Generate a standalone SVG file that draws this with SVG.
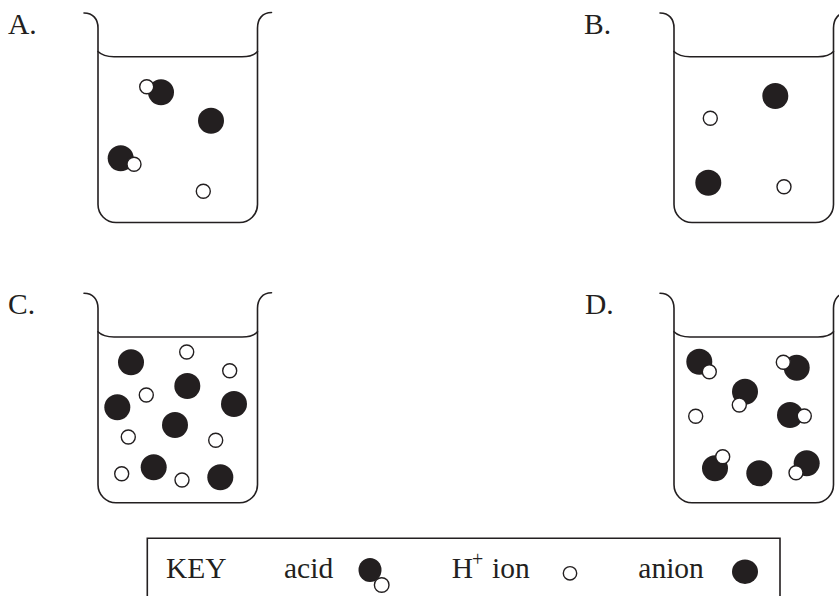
<svg xmlns="http://www.w3.org/2000/svg" xmlns:xlink="http://www.w3.org/1999/xlink" width="839" height="596" viewBox="0 0 839 596">
<style>
.bk{fill:none;stroke:#231f20;stroke-width:1.6;stroke-linecap:round}
.an{fill:#231f20}
.h{fill:#fff;stroke:#231f20;stroke-width:1.4}
.lbl{font-family:"Liberation Serif","Times New Roman",serif;font-size:29.5px;fill:#231f20}
</style>
<defs>
<g id="beaker">
<path class="bk" d="M84,13 C93,13 98,19 98,28 V204.5 A18,18 0 0 0 116,222.5 H239.5 A18,18 0 0 0 257.5,204.5 V28 C257.5,19 262.5,12.5 271.5,12.5"/>
<path class="bk" d="M98,51.5 C102,55.5 106,56.7 114,56.7 H242 C250,56.7 254,55.5 257.5,51.5"/>
</g>
</defs>
<rect width="839" height="596" fill="#fff"/>

<g id="beakerA">
<text class="lbl" x="8" y="34.3">A.</text>
<use xlink:href="#beaker"/>
<circle class="an" cx="161" cy="92.3" r="13"/><circle class="h" cx="146.7" cy="86.7" r="7"/>
<circle class="an" cx="211" cy="120.7" r="13"/>
<circle class="an" cx="120.7" cy="158.3" r="13"/><circle class="h" cx="134" cy="164.3" r="7"/>
<circle class="h" cx="203.3" cy="191.3" r="7"/>
</g>

<g id="beakerB">
<text class="lbl" x="584" y="34.3">B.</text>
<use xlink:href="#beaker" x="576"/>
<circle class="an" cx="775.3" cy="96" r="13"/>
<circle class="h" cx="710.3" cy="118.3" r="7"/>
<circle class="an" cx="708.3" cy="182.7" r="13"/>
<circle class="h" cx="784" cy="186.7" r="7"/>
</g>

<g id="beakerC">
<text class="lbl" x="8" y="314.3">C.</text>
<use xlink:href="#beaker" y="280.3"/>
<circle class="an" cx="131" cy="362.3" r="13"/>
<circle class="an" cx="187.3" cy="386" r="13"/>
<circle class="an" cx="117.3" cy="407.3" r="13"/>
<circle class="an" cx="234" cy="404" r="13"/>
<circle class="an" cx="175" cy="425" r="13"/>
<circle class="an" cx="153.7" cy="467.3" r="13"/>
<circle class="an" cx="220.3" cy="477.3" r="13"/>
<circle class="h" cx="186.7" cy="352" r="7"/>
<circle class="h" cx="229.7" cy="370.7" r="7"/>
<circle class="h" cx="146.3" cy="395" r="7"/>
<circle class="h" cx="128.3" cy="437" r="7"/>
<circle class="h" cx="215.7" cy="440.3" r="7"/>
<circle class="h" cx="121.7" cy="473.7" r="7"/>
<circle class="h" cx="182" cy="480" r="7"/>
</g>

<g id="beakerD">
<text class="lbl" x="585" y="314.3">D.</text>
<use xlink:href="#beaker" x="576" y="280.3"/>
<circle class="an" cx="699.3" cy="361.7" r="13"/><circle class="h" cx="709.3" cy="371.7" r="7"/>
<circle class="an" cx="796.7" cy="367.7" r="13"/><circle class="h" cx="783.3" cy="362.3" r="7"/>
<circle class="an" cx="745" cy="391.7" r="13"/><circle class="h" cx="739.3" cy="405" r="7"/>
<circle class="h" cx="695.7" cy="416.3" r="7"/>
<circle class="an" cx="790" cy="415" r="13"/><circle class="h" cx="804.3" cy="416" r="7"/>
<circle class="an" cx="715" cy="468.3" r="13"/><circle class="h" cx="722.7" cy="456.7" r="7"/>
<circle class="an" cx="759.3" cy="473.3" r="13"/>
<circle class="an" cx="806.7" cy="463.3" r="13"/><circle class="h" cx="796" cy="472.7" r="7"/>
</g>

<g id="key">
<path class="bk" d="M147.3,600 V538.3 H780 V600" stroke-linecap="butt"/>
<text class="lbl" x="166" y="577.7">KEY</text>
<text class="lbl" x="284" y="577.7">acid</text>
<ellipse class="an" cx="370" cy="570" rx="11.5" ry="12"/><circle class="h" cx="381.7" cy="585" r="7.3"/>
<text class="lbl" x="451.7" y="577.7">H</text>
<text class="lbl" x="472" y="566" style="font-size:20px">+</text>
<text class="lbl" x="492" y="577.7">ion</text>
<circle class="h" cx="570" cy="573.3" r="6.7"/>
<text class="lbl" x="638.3" y="577.7">anion</text>
<ellipse class="an" cx="745" cy="571.7" rx="13" ry="12.2"/>
</g>
</svg>
